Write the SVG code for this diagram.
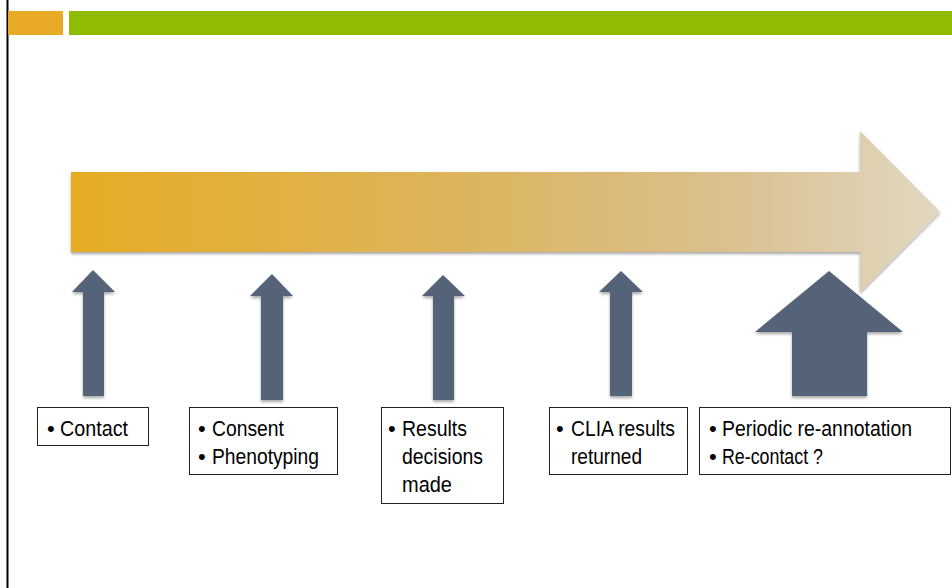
<svg xmlns="http://www.w3.org/2000/svg" width="952" height="588" viewBox="0 0 952 588">
  <defs>
    <linearGradient id="bigGrad" x1="71" y1="0" x2="940" y2="0" gradientUnits="userSpaceOnUse">
      <stop offset="0" stop-color="#E7AC24"/>
      <stop offset="0.45" stop-color="#DBB45C"/>
      <stop offset="0.75" stop-color="#DAC08E"/>
      <stop offset="1" stop-color="#E1D7C1"/>
    </linearGradient>
    <filter id="shadow" x="-10%" y="-10%" width="120%" height="130%">
      <feGaussianBlur in="SourceAlpha" stdDeviation="1.5"/>
      <feOffset dx="0" dy="2" result="b"/>
      <feComponentTransfer><feFuncA type="linear" slope="0.35"/></feComponentTransfer>
      <feMerge><feMergeNode/><feMergeNode in="SourceGraphic"/></feMerge>
    </filter>
  </defs>
  <style>
    .up { fill: #546479; filter: url(#shadow); }
    .box { fill: #ffffff; stroke: #222222; stroke-width: 1; }
    .t { font-family: "Liberation Sans", Arial, sans-serif; font-size: 22px; fill: #000000; }
  </style>

  <rect x="0" y="0" width="952" height="588" fill="#ffffff"/>
  <line x1="7.5" y1="0" x2="7.5" y2="588" stroke="#000000" stroke-width="2"/>
  <rect x="8" y="11" width="55" height="24" fill="#E9AB25"/>
  <rect x="69" y="11" width="883" height="24" fill="#8FBC00"/>

  <g id="timeline">
    <path d="M71,172 L860,172 L860,131 L940,211.5 L860,292 L860,252 L71,252 Z" fill="url(#bigGrad)" filter="url(#shadow)"/>
  </g>

  <g id="connectors">
    <path class="up" d="M93,270 L115,292 L104,292 L104,396 L83,396 L83,292 L72,292 Z"/>
    <path class="up" d="M272,274 L293,296 L283,296 L283,400 L261,400 L261,296 L250,296 Z"/>
    <path class="up" d="M443,275 L465,296 L454,296 L454,400 L433,400 L433,296 L422,296 Z"/>
    <path class="up" d="M621,271 L643,292 L632,292 L632,396 L610,396 L610,292 L599,292 Z"/>
    <path class="up" d="M829,271 L903,332 L867,332 L867,396 L792,396 L792,332 L755,332 Z"/>
  </g>

  <g id="contact">
    <rect class="box" x="37.5" y="407.5" width="111" height="38"/>
    <text class="t" x="47" y="436">•</text>
    <text class="t" x="60" y="436" textLength="68" lengthAdjust="spacingAndGlyphs">Contact</text>
  </g>

  <g id="consent">
    <rect class="box" x="189.5" y="407.5" width="148" height="67"/>
    <text class="t" x="198" y="436">•</text>
    <text class="t" x="212" y="436" textLength="72" lengthAdjust="spacingAndGlyphs">Consent</text>
    <text class="t" x="198" y="464">•</text>
    <text class="t" x="212" y="464" textLength="107" lengthAdjust="spacingAndGlyphs">Phenotyping</text>
  </g>

  <g id="results">
    <rect class="box" x="381.5" y="407.5" width="122" height="96"/>
    <text class="t" x="388" y="436">•</text>
    <text class="t" x="402" y="436" textLength="65" lengthAdjust="spacingAndGlyphs">Results</text>
    <text class="t" x="402" y="464" textLength="81" lengthAdjust="spacingAndGlyphs">decisions</text>
    <text class="t" x="402" y="492" textLength="50" lengthAdjust="spacingAndGlyphs">made</text>
  </g>

  <g id="clia">
    <rect class="box" x="549.5" y="407.5" width="138" height="67"/>
    <text class="t" x="556" y="436">•</text>
    <text class="t" x="571" y="436" textLength="104" lengthAdjust="spacingAndGlyphs">CLIA results</text>
    <text class="t" x="571" y="464" textLength="71" lengthAdjust="spacingAndGlyphs">returned</text>
  </g>

  <g id="periodic">
    <rect class="box" x="699.5" y="407.5" width="251" height="67"/>
    <text class="t" x="709" y="436">•</text>
    <text class="t" x="722" y="436" textLength="190" lengthAdjust="spacingAndGlyphs">Periodic re-annotation</text>
    <text class="t" x="709" y="464">•</text>
    <text class="t" x="722" y="464" textLength="101" lengthAdjust="spacingAndGlyphs">Re-contact ?</text>
  </g>
</svg>
